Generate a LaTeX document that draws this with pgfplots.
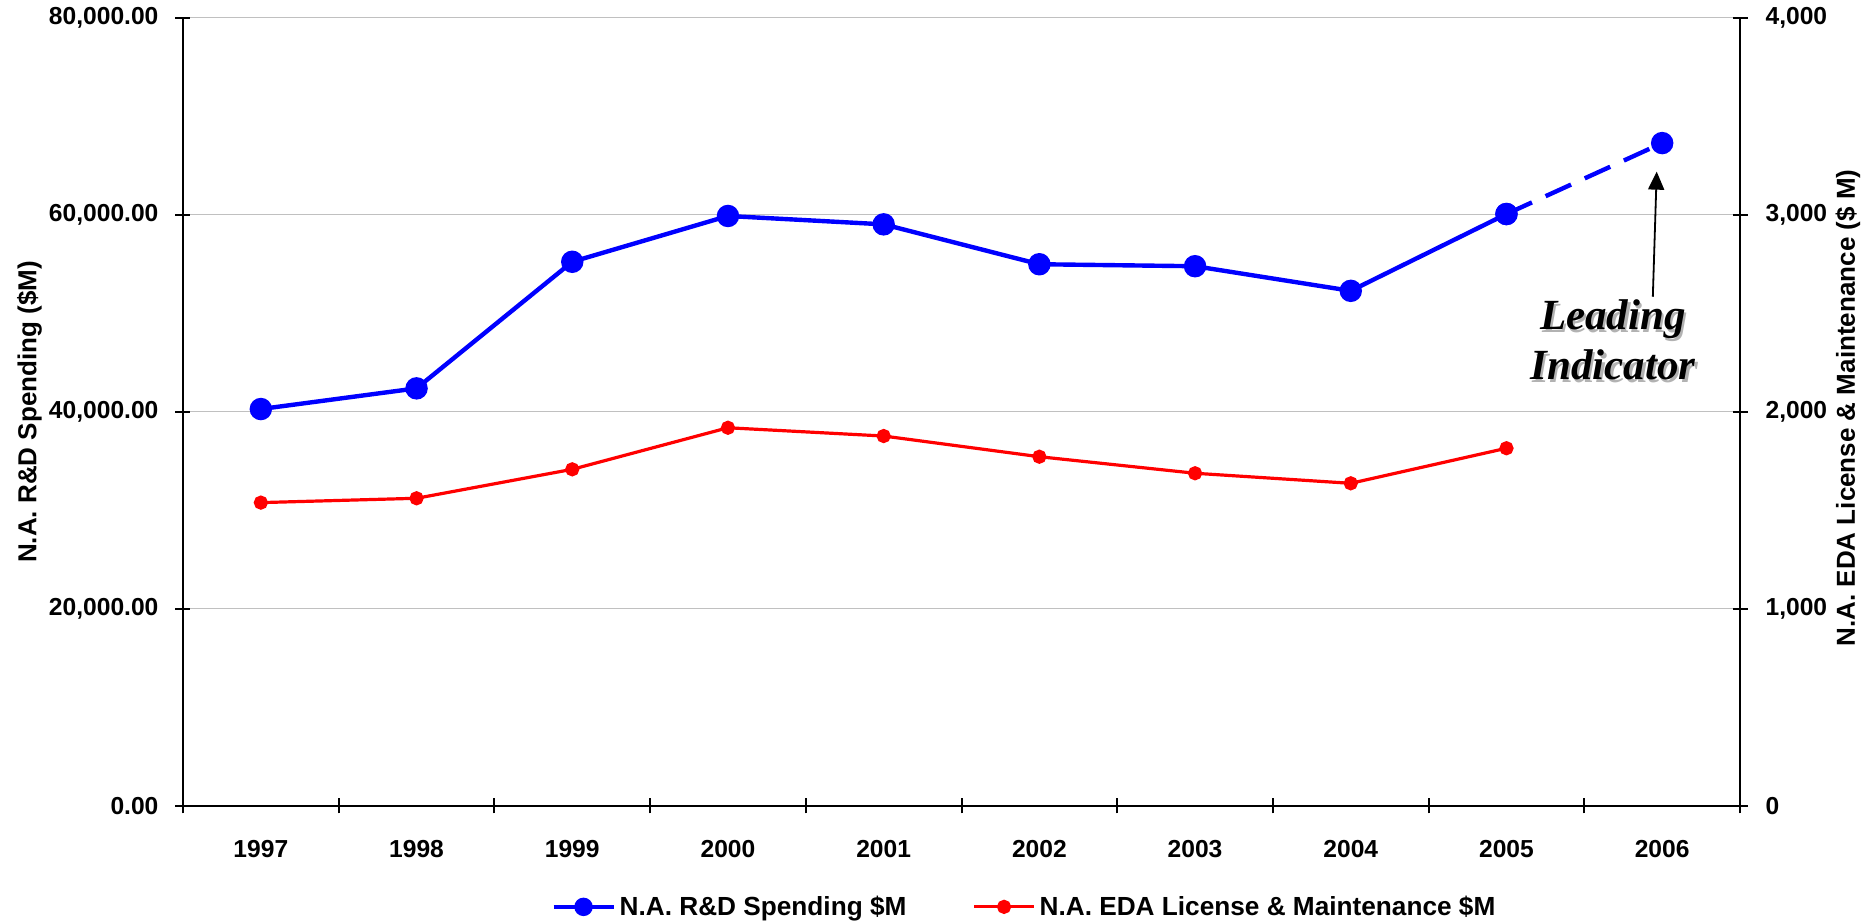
\documentclass[border=0pt]{standalone}
\usepackage{fontspec}
\setmainfont{Liberation Sans}
\newfontfamily\timesf{Liberation Serif}
\usepackage{pgfplots}
\pgfplotsset{compat=1.18}
\usetikzlibrary{arrows.meta}

\definecolor{gridgray}{RGB}{192,192,192}
\definecolor{rdblue}{RGB}{0,0,255}
\definecolor{edared}{RGB}{255,0,0}

\pgfplotsset{
  basestyle/.style={
    scale only axis, width=778.5pt, height=394pt,
    xmin=-0.5, xmax=9.5,
    tick align=center,
    major tick length=7.5pt, minor tick length=7.5pt,
    every tick/.append style={black, line width=1pt},
    axis line style={line width=1pt},
    tick label style={font=\fontsize{12.3}{14}\selectfont\bfseries},
    /pgf/number format/assume math mode=true,
    scaled y ticks=false,
  },
  legend image code/.code={
    \draw[mark repeat=2,mark phase=2,#1] plot coordinates {(0pt,0pt) (15pt,0pt) (30pt,0pt)};
  },
}

\begin{document}
\begin{tikzpicture}
% left axis: R&D spending
\begin{axis}[basestyle,
  axis x line*=bottom, axis y line*=left,
  ymin=0, ymax=80000,
  ytick={0,20000,40000,60000,80000},
  yticklabel style={xshift=-5pt, /pgf/number format/.cd, fixed, fixed zerofill, precision=2, 1000 sep={,}},
  xtick={0,...,9},
  xticklabels={1997,1998,1999,2000,2001,2002,2003,2004,2005,2006},
  minor xtick={-0.5,0.5,...,9.5},
  major x tick style={draw=none},
  xticklabel style={yshift=-10pt},
  ymajorgrids, major grid style={gridgray, line width=0.5pt},
]
\coordinate (sw) at (rel axis cs:0,0);
\coordinate (ne) at (rel axis cs:1,1);

\addplot[rdblue, line width=2.2pt, dash pattern=on 14pt off 7.5pt,
  mark=*, mark size=4.5pt, mark options={solid}] coordinates {
  (8,60100) (9,67300)
};
\addplot[rdblue, line width=2.2pt, mark=*, mark size=4.5pt] coordinates {
  (0,40300) (1,42400) (2,55250) (3,59900) (4,59050)
  (5,55000) (6,54800) (7,52300) (8,60100)
};

% annotation
\draw[-{Triangle[length=9pt,width=8pt]}, line width=0.9pt]
  (axis cs:8.94,51700) -- (axis cs:8.965,64400);
\node[font=\timesf\bfseries\itshape\fontsize{21.5}{25}\selectfont, align=center,
  text=black!30, xshift=1.2pt, yshift=-1.2pt] at (axis cs:8.684,47300) {Leading\\Indicator};
\node[font=\timesf\bfseries\itshape\fontsize{21.5}{25}\selectfont, align=center]
  at (axis cs:8.684,47300) {Leading\\Indicator};
\end{axis}

% right axis: EDA license & maintenance
\begin{axis}[basestyle,
  axis x line=none, axis y line*=right,
  ymin=0, ymax=4000,
  ytick={0,1000,2000,3000,4000},
  yticklabel style={xshift=5.5pt, /pgf/number format/.cd, fixed, 1000 sep={,}},
  legend columns=2,
  legend style={at={(0.541,-0.128)}, anchor=center, draw=none, fill=none,
    font=\fontsize{13.1}{15}\selectfont\bfseries,
    /tikz/every even column/.append style={column sep=31pt}},
]
\addlegendimage{rdblue, line width=2.2pt, mark=*, mark size=3.5pt}
\addlegendentry{N.A. R\&D Spending \$M}
\addplot[edared, line width=1.6pt, mark=*, mark size=2.75pt] coordinates {
  (0,1540) (1,1562) (2,1709) (3,1920) (4,1878)
  (5,1773) (6,1689) (7,1638) (8,1816)
};
\addlegendentry{N.A. EDA License \& Maintenance \$M}
\end{axis}

% axis titles
\path (sw) ++(-76.75pt,197pt) node[rotate=90, font=\fontsize{13}{15}\selectfont\bfseries]
  {N.A. R\&D Spending (\$M)};
\path (ne) ++(54pt,-195pt) node[rotate=90, font=\fontsize{13}{15}\selectfont\bfseries]
  {N.A. EDA License \& Maintenance (\$ M)};

\pgfresetboundingbox
\path (sw) ++(-91.5pt,-59pt) rectangle ++(933pt,462pt);
\end{tikzpicture}
\end{document}
